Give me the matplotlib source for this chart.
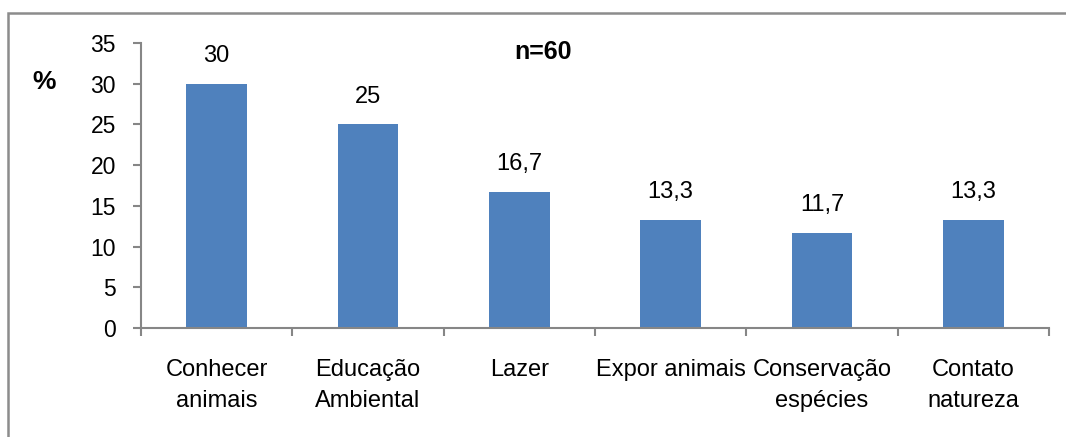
import matplotlib.pyplot as plt
from matplotlib.patches import Rectangle
import numpy as np

plt.rcParams['font.family'] = ['Liberation Sans', 'DejaVu Sans']

# Motivos de visita ao zoológico (%)
categories = ["Conhecer\nanimais", "Educação\nAmbiental", "Lazer",
              "Expor animais", "Conservação\nespécies", "Contato\nnatureza"]
values = [30, 25, 16.7, 13.3, 11.7, 13.3]
value_labels = ["30", "25", "16,7", "13,3", "11,7", "13,3"]
y_ticks = [0, 5, 10, 15, 20, 25, 30, 35]

bar_color = "#4F81BD"
axis_color = "#868686"

fig = plt.figure(figsize=(10.66, 4.37), dpi=100)
ax = fig.add_axes([0.1323, 0.2494, 0.8517, 0.6522])

x = np.arange(len(categories))
bars = ax.bar(x, values, width=0.4, color=bar_color, zorder=2)

for bar, lab in zip(bars, value_labels):
    ax.annotate(lab, (bar.get_x() + bar.get_width() / 2, bar.get_height()),
                xytext=(0, 12), textcoords="offset points",
                ha="center", va="bottom", fontsize=17)

ax.set_xlim(-0.5, len(categories) - 0.5)
ax.set_ylim(0, 35)
ax.set_yticks(y_ticks)
ax.set_yticklabels([str(t) for t in y_ticks], fontsize=16.5)

# category labels in the middle, tick marks between categories
ax.set_xticks(x)
ax.set_xticklabels(categories, fontsize=17, linespacing=1.55)
ax.set_xticks(np.arange(-0.5, len(categories)), minor=True)
ax.tick_params(axis="x", which="major", length=0, pad=22)
ax.tick_params(axis="x", which="minor", length=6, width=1.5, color=axis_color)
ax.tick_params(axis="y", length=6, width=1.5, color=axis_color, pad=12)

for side in ["top", "right"]:
    ax.spines[side].set_visible(False)
for side in ["left", "bottom"]:
    ax.spines[side].set_color(axis_color)
    ax.spines[side].set_linewidth(1.5)

fig.text(44 / 1066, 1 - 82 / 437, "%", fontsize=19, fontweight="bold",
         ha="center", va="center")
fig.text(543 / 1066, 1 - 52 / 437, "n=60", fontsize=18, fontweight="bold",
         ha="center", va="center")

# outer frame
fig.patches.append(Rectangle((8 / 1066, -0.1), 1.2, 1 - 13 / 437 + 0.1,
                             transform=fig.transFigure, fill=False,
                             edgecolor="#8c8c8c", linewidth=1.8))

fig.savefig("out.png", dpi=100)
